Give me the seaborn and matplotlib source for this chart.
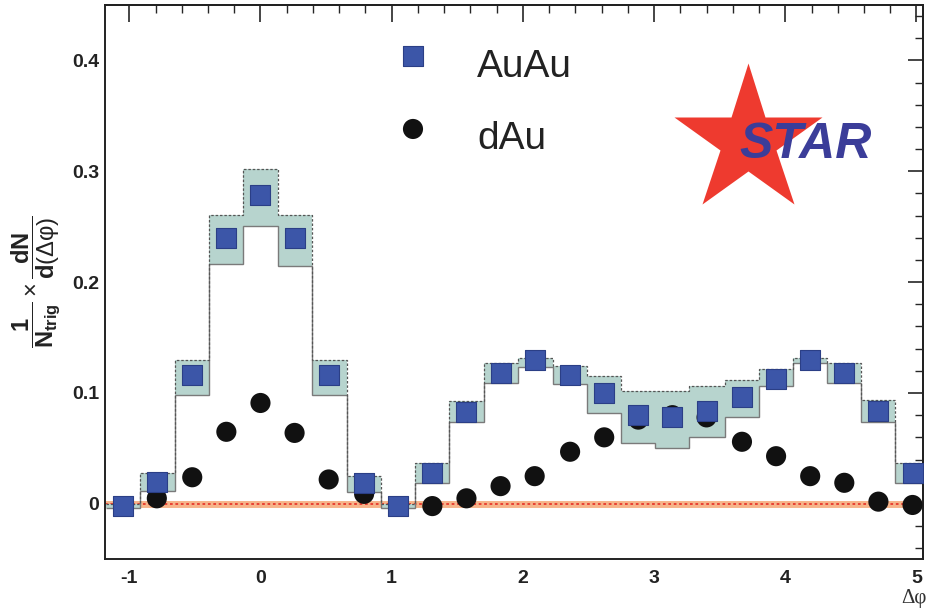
# -*- coding: utf-8 -*-

import numpy as np
import pandas as pd
import matplotlib as mpl
import matplotlib.pyplot as plt
from matplotlib.ticker import MultipleLocator
import seaborn as sns

print("seaborn version: {}".format(sns.__version__))

# 数据
dphi = [-1.05, -0.79, -0.52, -0.26, 0.00, 0.26, 0.52, 0.79, 1.05, 1.31, 1.57, 1.83,
        2.09, 2.36, 2.62, 2.88, 3.14, 3.40, 3.67, 3.93, 4.19, 4.45, 4.71, 4.97]

auau = [-0.002, 0.020, 0.116, 0.240, 0.279, 0.240, 0.116, 0.019, -0.002, 0.028, 0.083, 0.118,
        0.130, 0.116, 0.100, 0.080, 0.078, 0.084, 0.096, 0.113, 0.130, 0.118, 0.084, 0.028]

# dAu 在 ±1.05 处被方块挡住, 看不到
dau = [np.nan, 0.005, 0.024, 0.065, 0.091, 0.064, 0.022, 0.009, np.nan, -0.002, 0.005, 0.016,
       0.025, 0.047, 0.060, 0.076, 0.080, 0.078, 0.056, 0.043, 0.025, 0.019, 0.002, -0.001]

# AuAu 系统误差带 (下沿 / 上沿)
auau_sys_lo = [-0.004, 0.012, 0.098, 0.216, 0.251, 0.215, 0.098, 0.011, -0.004, 0.019, 0.074, 0.109,
               0.123, 0.108, 0.082, 0.055, 0.050, 0.060, 0.078, 0.106, 0.127, 0.109, 0.074, 0.019]
auau_sys_hi = [0.000, 0.028, 0.130, 0.261, 0.302, 0.261, 0.130, 0.025, 0.000, 0.037, 0.093, 0.127,
               0.132, 0.124, 0.115, 0.102, 0.102, 0.106, 0.112, 0.122, 0.132, 0.127, 0.094, 0.037]

xtick_vals = [-1, 0, 1, 2, 3, 4, 5]
ytick_vals = [0, 0.1, 0.2, 0.3, 0.4]
ytick_labels = ["0", "0.1", "0.2", "0.3", "0.4"]

data = pd.DataFrame({"dphi": dphi, "AuAu": auau, "dAu": dau})
print(data)

# bin edges from the bin centres
centers = np.array(dphi)
half = (centers[1] - centers[0]) / 2
edges = np.append(centers - half, centers[-1] + half)

sns.set_style("white")
plt.rcParams['font.family'] = ['Liberation Sans', 'DejaVu Sans']
plt.rcParams['axes.unicode_minus'] = False
plt.rcParams['mathtext.fontset'] = 'custom'
plt.rcParams['mathtext.rm'] = 'Liberation Sans'
plt.rcParams['mathtext.bf'] = 'Liberation Sans:bold'
plt.rcParams['mathtext.it'] = 'Liberation Sans:italic'

c_au = '#3c56a8'
c_au_edge = '#2b3f86'
c_d = '#111111'

fig = plt.figure(figsize=(9.3, 6.14), dpi=100)
ax = fig.add_axes([0.1129, 0.0891, 0.8796, 0.9028])

# 零线
ax.axhline(0, color='#f6b48a', lw=5, zorder=1)
ax.axhline(0, color='#e8372c', lw=1.3, ls=(0, (1.5, 1.5)), zorder=1.5)

# 系统误差带
ax.stairs(auau_sys_hi, edges, baseline=auau_sys_lo, fill=True, color='#b7d4ce', lw=0, zorder=2)
ax.stairs(auau_sys_lo, edges, baseline=None, color='#7a7a7a', lw=1.0, zorder=2.2)
ax.stairs(auau_sys_hi, edges, baseline=None, color='#555555', lw=0.9, ls=(0, (2, 1.5)), zorder=2.2)

sns.scatterplot(x="dphi", y="dAu", data=data, marker='o', s=210, color=c_d,
                edgecolor='none', legend=False, ax=ax, zorder=3)
sns.scatterplot(x="dphi", y="AuAu", data=data, marker='s', s=200, color=c_au,
                edgecolor=c_au_edge, linewidth=0.8, legend=False, ax=ax, zorder=4)

ax.set_xlim(-1.185, 5.05)
ax.set_ylim(-0.05, 0.45)

ax.set_xticks(xtick_vals)
ax.xaxis.set_minor_locator(MultipleLocator(0.2))
ax.set_yticks(ytick_vals)
ax.set_yticklabels(ytick_labels)
ax.yaxis.set_minor_locator(MultipleLocator(0.02))

ax.tick_params(axis='y', which='major', direction='in', length=18, width=1.2, labelsize=14, pad=4)
ax.tick_params(axis='y', which='minor', direction='in', length=9, width=1.0)
ax.tick_params(axis='x', which='major', direction='in', length=11, width=1.2, labelsize=14, pad=8)
ax.tick_params(axis='x', which='minor', direction='in', length=6, width=1.0)
for lab in ax.get_xticklabels() + ax.get_yticklabels():
    lab.set_fontweight('bold')
    lab.set_color('#222222')

# 上边和右边的刻度
sec_r = ax.secondary_yaxis('right')
sec_r.set_yticks(ytick_vals)
sec_r.yaxis.set_minor_locator(MultipleLocator(0.02))
sec_r.tick_params(which='major', direction='in', length=11, width=1.2, labelright=False)
sec_r.tick_params(which='minor', direction='in', length=6, width=1.0)

sec_t = ax.secondary_xaxis('top')
sec_t.set_xticks(xtick_vals)
sec_t.xaxis.set_minor_locator(MultipleLocator(0.2))
sec_t.tick_params(which='major', direction='in', length=12, width=1.2, labeltop=False)
sec_t.tick_params(which='minor', direction='in', length=6, width=1.0)

for sp in list(ax.spines.values()) + list(sec_r.spines.values()) + list(sec_t.spines.values()):
    sp.set_linewidth(1.4)
    sp.set_color('#222222')

ax.set_ylabel(r'$\dfrac{\mathbf{1}}{\mathbf{N_{trig}}}\times\dfrac{\mathbf{dN}}{\mathbf{d}\mathrm{(Δφ)}}$',
              fontsize=17, color='#222222')
ax.yaxis.set_label_coords(-0.053, 0.5)
ax.set_xlabel('Δφ', fontsize=15, family=['Liberation Serif', 'DejaVu Serif'],
              color='#333333', ha='right', va='top')
ax.xaxis.set_label_coords(1.005, -0.0536)

# 图例 (手动放置)
ax.scatter([0.3765], [0.9085], marker='s', s=200, color=c_au, edgecolor=c_au_edge,
           linewidth=0.8, transform=ax.transAxes, zorder=6)
ax.scatter([0.3765], [0.7763], marker='o', s=210, color=c_d, edgecolor='none',
           transform=ax.transAxes, zorder=6)
ax.text(0.4548, 0.870, 'AuAu', transform=ax.transAxes, fontsize=28, color='#222222',
        ha='left', va='baseline')
ax.text(0.4548, 0.741, 'dAu', transform=ax.transAxes, fontsize=28, color='#222222',
        ha='left', va='baseline')

# STAR 标志
ax.plot(0.786, 0.755, marker='*', ms=112, color='#ee3a2f', mec='none',
        transform=ax.transAxes, clip_on=False, zorder=5)
ax.text(0.857, 0.747, 'STAR', transform=ax.transAxes, ha='center', va='center',
        fontsize=36, fontweight='bold', fontstyle='italic', color='#3b3d99', zorder=6)

fig.savefig('out.png', dpi=100)
